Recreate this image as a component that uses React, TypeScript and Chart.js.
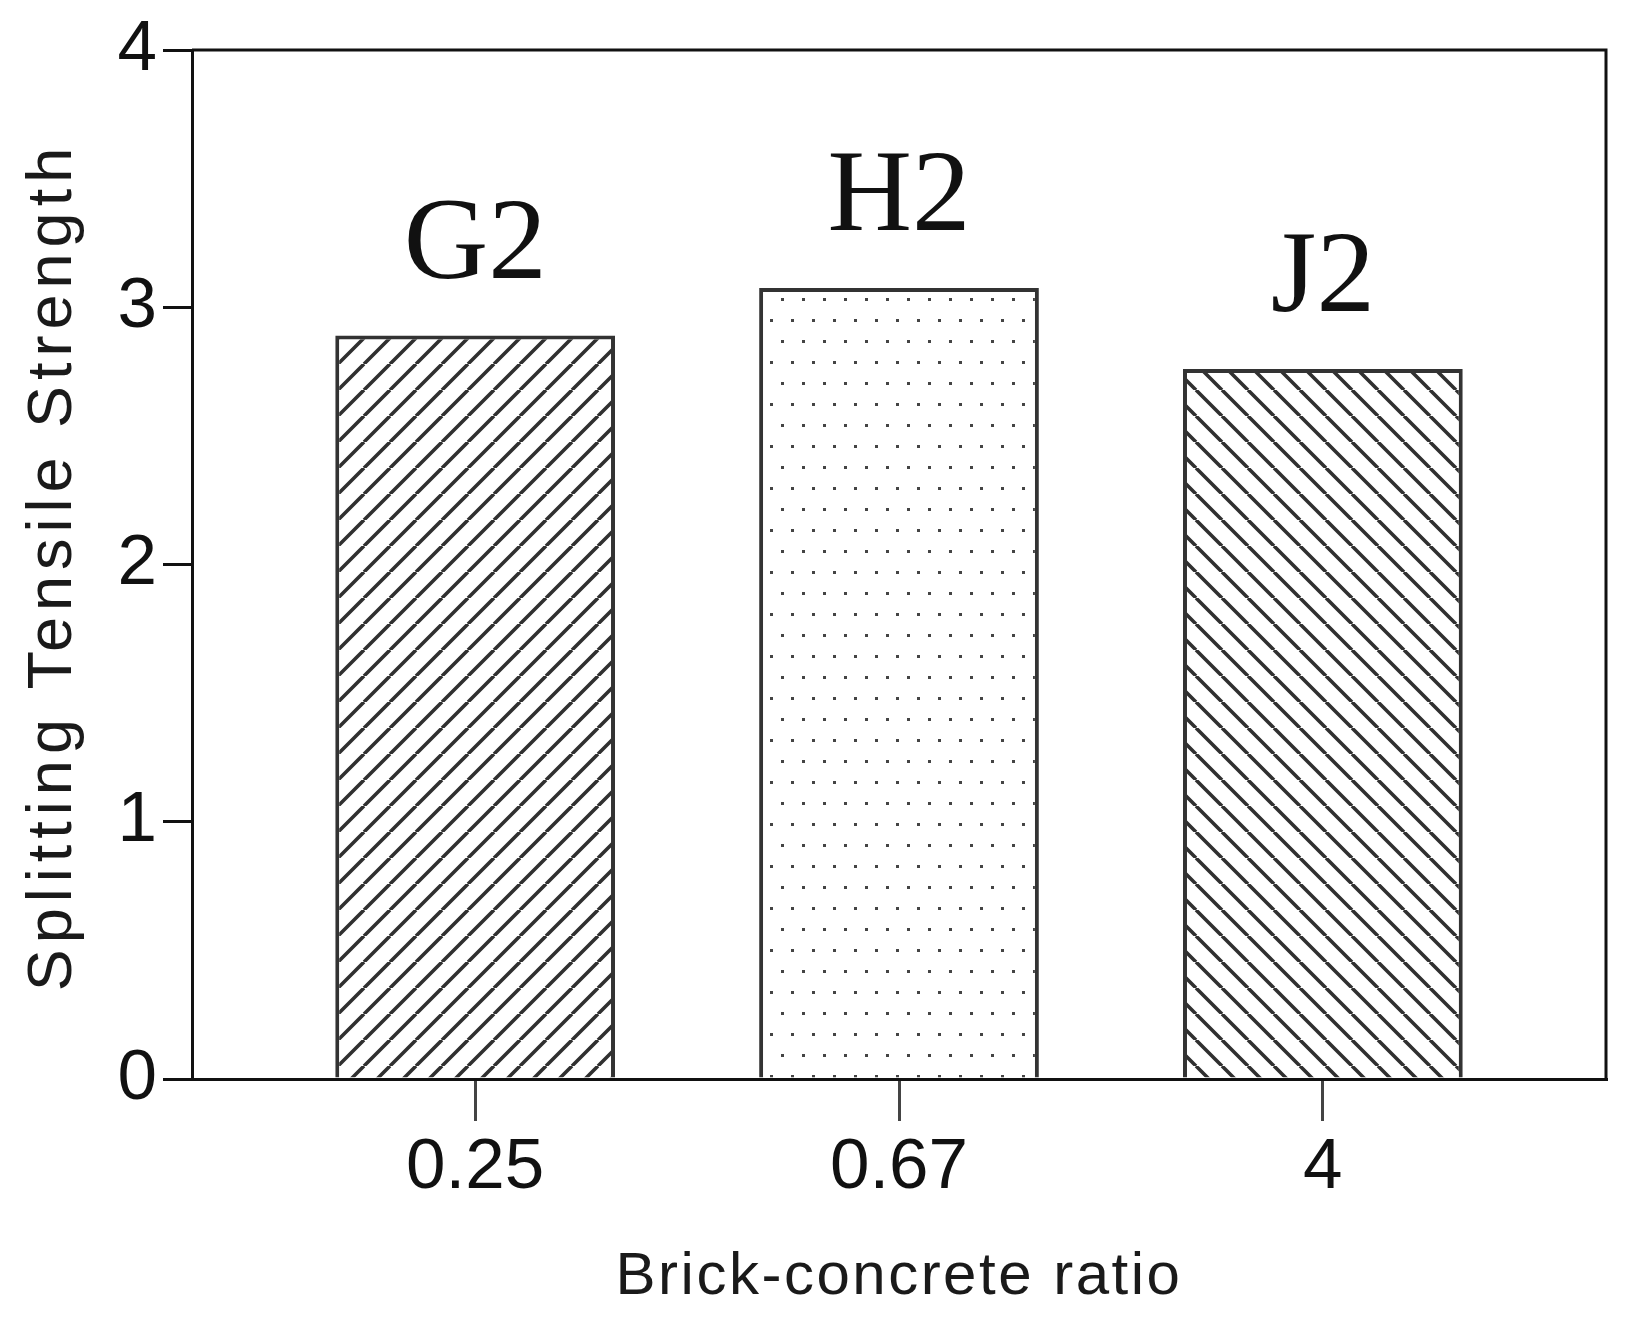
import React, { useEffect, useRef } from 'react';
import { Chart, registerables } from 'chart.js';

Chart.register(...registerables);

// ---- data ----
const categories = ['0.25', '0.67', '4'];
const mixLabels = ['G2', 'H2', 'J2'];
const strengthValues = [2.89, 3.075, 2.76];
const yTickValues = [0, 1, 2, 3, 4];
const patternKinds = ['slash', 'dots', 'backslash'];
const xTitle = 'Brick-concrete ratio';
const yTitle = 'Splitting Tensile Strength';

const W = 1637;
const H = 1328;

function makePattern(kind: string, ctx: CanvasRenderingContext2D): CanvasPattern | string {
  const c = document.createElement('canvas');
  if (kind === 'dots') {
    const w = 21, h = 42;
    c.width = w; c.height = h;
    const g = c.getContext('2d')!;
    g.fillStyle = '#ffffff';
    g.fillRect(0, 0, w, h);
    g.fillStyle = '#444444';
    g.fillRect(4, 4, 3, 3);
    g.fillRect(14, 25, 3, 3);
  } else {
    const s = 26;
    c.width = s; c.height = s;
    const g = c.getContext('2d')!;
    g.fillStyle = '#ffffff';
    g.fillRect(0, 0, s, s);
    g.strokeStyle = '#303030';
    g.lineWidth = 3.6;
    g.beginPath();
    for (const k of [-1, 0, 1]) {
      if (kind === 'slash') {
        g.moveTo(k * s, s);
        g.lineTo(k * s + s, 0);
      } else {
        g.moveTo(k * s, 0);
        g.lineTo(k * s + s, s);
      }
    }
    g.stroke();
  }
  return ctx.createPattern(c, 'repeat') || '#ccc';
}

const decorPlugin = {
  id: 'decor',
  afterDatasetsDraw(chart: any) {
    const ctx = chart.ctx as CanvasRenderingContext2D;
    const meta = chart.getDatasetMeta(0);
    ctx.save();
    ctx.font = '117px "Liberation Serif", "Times New Roman", serif';
    ctx.fillStyle = '#111111';
    ctx.textAlign = 'center';
    ctx.textBaseline = 'alphabetic';
    meta.data.forEach((bar: any, i: number) => {
      ctx.fillText(mixLabels[i], bar.x, bar.y - 58);
    });
    ctx.restore();
  },
  afterDraw(chart: any) {
    const ctx = chart.ctx as CanvasRenderingContext2D;
    const a = chart.chartArea;
    ctx.save();
    // top and right frame
    ctx.strokeStyle = '#111111';
    ctx.lineWidth = 3;
    ctx.beginPath();
    ctx.moveTo(a.left, a.top);
    ctx.lineTo(a.right, a.top);
    ctx.lineTo(a.right, a.bottom);
    ctx.stroke();

    ctx.fillStyle = '#1a1a1a';
    // x title
    (ctx as any).letterSpacing = '2.5px';
    ctx.font = '60px "Liberation Sans", Arial, sans-serif';
    ctx.textAlign = 'center';
    ctx.textBaseline = 'alphabetic';
    ctx.fillText(xTitle, (a.left + a.right) / 2, 1294);

    // y title
    (ctx as any).letterSpacing = '6px';
    ctx.font = '63px "Liberation Sans", Arial, sans-serif';
    ctx.translate(71, (a.top + a.bottom) / 2 + 2);
    ctx.rotate(-Math.PI / 2);
    ctx.fillText(yTitle, 0, 0);
    ctx.restore();
  },
};

export default function App() {
  const ref = useRef<HTMLCanvasElement | null>(null);

  useEffect(() => {
    document.body.style.margin = '0';
    const canvas = ref.current!;
    const ctx = canvas.getContext('2d')!;
    const fills = patternKinds.map((k) => makePattern(k, ctx));

    const chart = new Chart(canvas, {
      type: 'bar',
      data: {
        datasets: [
          {
            label: 'Splitting Tensile Strength',
            data: strengthValues.map((v, i) => ({ x: i, y: v })),
            backgroundColor: fills as any,
            borderColor: '#333333',
            borderWidth: 4,
            barPercentage: 0.66,
            categoryPercentage: 1,
          },
        ],
      },
      options: {
        responsive: false,
        animation: false,
        layout: { padding: { left: 0, right: W - 1606, top: 50, bottom: 0 } },
        plugins: {
          legend: { display: false },
          tooltip: { enabled: false },
          title: { display: false },
        },
        scales: {
          x: {
            type: 'linear',
            min: -0.668,
            max: 2.668,
            offset: false,
            afterBuildTicks: (scale: any) => {
              scale.ticks = categories.map((_, i) => ({ value: i }));
            },
            afterFit: (scale: any) => {
              scale.height = 249;
            },
            ticks: {
              callback: (v: any) => categories[v as number] ?? '',
              font: { size: 71, family: '"Liberation Sans", Arial, sans-serif' },
              color: '#111111',
              padding: 5,
              maxRotation: 0,
              autoSkip: false,
            },
            grid: {
              offset: false,
              drawOnChartArea: false,
              drawTicks: true,
              tickLength: 42,
              color: '#444444',
              lineWidth: 3,
            },
            border: { display: true, color: '#111111', width: 3 },
          },
          y: {
            type: 'linear',
            min: 0,
            max: 4,
            afterBuildTicks: (scale: any) => {
              scale.ticks = yTickValues.map((v) => ({ value: v }));
            },
            afterFit: (scale: any) => {
              scale.width = 192;
            },
            ticks: {
              font: { size: 71, family: '"Liberation Sans", Arial, sans-serif' },
              color: '#111111',
              padding: 6,
            },
            grid: {
              drawOnChartArea: false,
              drawTicks: true,
              tickLength: 29,
              color: '#111111',
              lineWidth: 3,
            },
            border: { display: true, color: '#111111', width: 3 },
          },
        },
      },
      plugins: [decorPlugin],
    });
    return () => chart.destroy();
  }, []);

  return <canvas ref={ref} width={W} height={H} style={{ display: 'block' }} />;
}
